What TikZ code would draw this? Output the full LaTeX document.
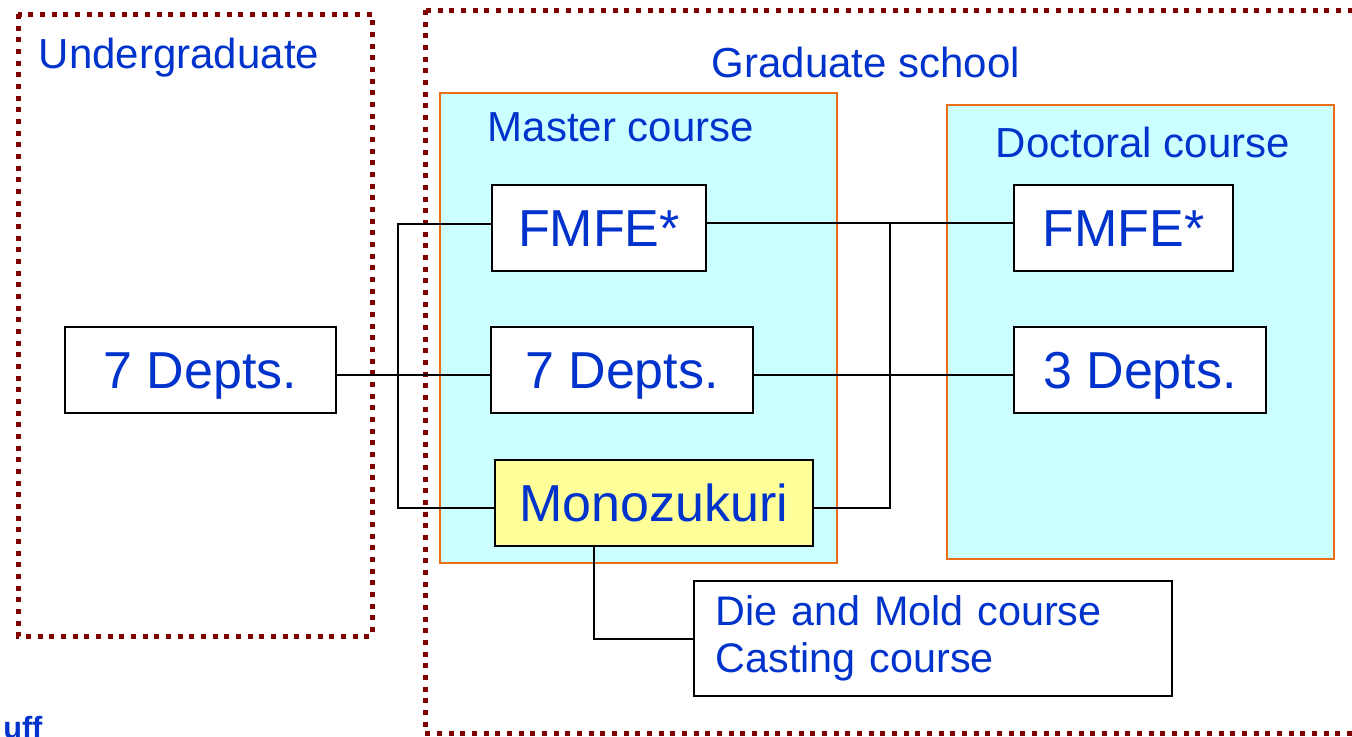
\documentclass[tikz,border=0pt]{standalone}
\usepackage{fontspec}
\setmainfont{Liberation Sans}
\definecolor{txtblue}{RGB}{0,51,204}
\definecolor{dotred}{RGB}{128,0,0}
\definecolor{courseorange}{RGB}{235,110,20}
\definecolor{coursecyan}{RGB}{204,255,255}
\definecolor{monoyellow}{RGB}{255,255,153}
\tikzset{
  schoolbox/.style={draw=dotred, line width=3.75pt, dash pattern=on 3.75pt off 5pt},
  coursebox/.style={draw=courseorange, fill=coursecyan, line width=1.9pt},
  deptbox/.style={draw=black, fill=white, line width=1.6pt, text=txtblue, inner sep=0pt,
    minimum height=64.5pt, text height=28pt, text depth=0pt, font=\fontsize{39}{45}\selectfont},
  headtext/.style={text=txtblue, inner sep=0pt, font=\fontsize{31.5}{36}\selectfont},
  link/.style={draw=black, line width=1.6pt},
}
\begin{document}
\begin{tikzpicture}[x=0.75pt,y=0.75pt,yscale=-1,xscale=1]
\clip (0,0) rectangle (1352,736);

%Shape: Rectangle -- school frames
\draw[schoolbox] (18,14) rectangle (372,636);
\draw[schoolbox] (425,10) rectangle (1420,733);
%Shape: Rectangle -- course frames
\draw[coursebox] (440,93) rectangle (837,563);
\draw[coursebox] (947,105) rectangle (1334,559);

% Text Node
\node[headtext, anchor=base] (ug) at (179,68) {Undergraduate};
\node[headtext, anchor=base] (gs) at (866,77) {Graduate school};
\node[headtext, anchor=base] (mc) at (621,141) {Master course};
\node[headtext, anchor=base] (dc) at (1143,157) {Doctoral course};

% Department boxes
\node[deptbox, minimum width=203.25pt] (u7) at (200.5,370) {7 Depts.};
\node[deptbox, minimum width=160.5pt] (mF) at (599,228) {FMFE*};
\node[deptbox, minimum width=196.5pt] (m7) at (622,370) {7 Depts.};
\node[deptbox, minimum width=238.5pt, fill=monoyellow] (mMono) at (654,503) {Monozukuri};
\node[deptbox, minimum width=164.25pt] (dF) at (1123.5,228) {FMFE*};
\node[deptbox, minimum width=189pt] (d3) at (1140,370) {3 Depts.};
\node[deptbox, anchor=north west, minimum width=358.5pt, minimum height=86.25pt,
  text width=326pt, inner xsep=16.25pt, align=left, text height=, text depth=,
  font=\fontsize{31}{35.5}\selectfont] (die) at (693,580) {Die and Mold course\\Casting course};

% Straight Lines
\coordinate (lbus) at (398,0);
\coordinate (rbus) at (890,0);
\coordinate (drop) at (594,0);
\draw[link] ([yshift=3.75pt]u7.east) -- ([yshift=3.75pt]m7.west);
\draw[link] ([yshift=-3pt]mF.west) -- ([yshift=-3pt]mF.west -| lbus)
  -- ([yshift=3.75pt]mMono.west -| lbus) -- ([yshift=3.75pt]mMono.west);
\draw[link] ([yshift=-3.5pt]mF.east) -- ([yshift=-3.5pt]dF.west);
\draw[link] ([yshift=3.75pt]m7.east) -- ([yshift=3.75pt]d3.west);
\draw[link] ([yshift=-3.5pt]mF.east -| rbus) -- ([yshift=3.75pt]mMono.east -| rbus)
  -- ([yshift=3.75pt]mMono.east);
\draw[link] (mMono.south -| drop) |- (die.west);

% Text Node
\node[text=txtblue, anchor=base west, inner sep=0pt, font=\bfseries\fontsize{23}{28}\selectfont] (uff) at (3,738) {uff};
\end{tikzpicture}
\end{document}
